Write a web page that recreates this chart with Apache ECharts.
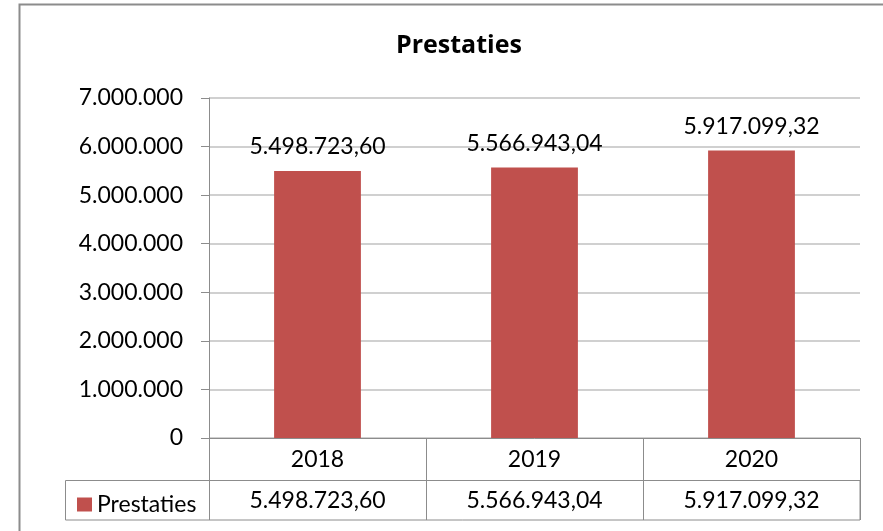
<!DOCTYPE html>
<html>
<head>
<meta charset="utf-8">
<script src="https://cdn.jsdelivr.net/npm/echarts@6/dist/echarts.min.js"></script>
<style>
  html, body { margin: 0; padding: 0; background: #fff; }
  #chart { width: 883px; height: 531px; }
</style>
</head>
<body>
<div id="chart"></div>
<script>
// gegevens
var years = ['2018', '2019', '2020'];
var prestaties = [5498723.60, 5566943.04, 5917099.32];
var yTicks = [0, 1000000, 2000000, 3000000, 4000000, 5000000, 6000000, 7000000];

var FONT = 'Lato';
var GRAY = '#8c8c8c';

// Nederlandse notatie: 5.498.723,60
function nl(v, dec) {
  var s = v.toFixed(dec);
  var parts = s.split('.');
  var int = parts[0].replace(/\B(?=(\d{3})+(?!\d))/g, '.');
  return dec ? int + ',' + parts[1] : int;
}

var chart = echarts.init(document.getElementById('chart'));

chart.setOption({
  animation: false,
  textStyle: { fontFamily: FONT },
  title: {
    text: 'Prestaties',
    left: 391,
    top: 28,
    textStyle: { fontFamily: 'Open Sans', fontSize: 25, fontWeight: 'bold', color: '#000' }
  },
  legend: {
    left: 72,
    top: 488,
    icon: 'rect',
    itemWidth: 15,
    itemHeight: 14,
    itemGap: 6,
    textStyle: { fontFamily: FONT, fontSize: 23, color: '#000' },
    data: ['Prestaties']
  },
  grid: { left: 209, right: 23, top: 98, bottom: 93, containLabel: false },
  xAxis: [{
    type: 'category',
    data: years,
    axisLine: { lineStyle: { color: GRAY, width: 1 } },
    axisTick: { show: true, length: 82, lineStyle: { color: GRAY } },
    axisLabel: { margin: 10, fontSize: 23, color: '#000', fontFamily: FONT }
  }, {
    type: 'category',
    position: 'bottom',
    offset: 42,
    data: prestaties.map(function (v) { return nl(v, 2); }),
    axisLine: { lineStyle: { color: GRAY, width: 1 } },
    axisTick: { show: true, length: 40, lineStyle: { color: GRAY } },
    axisLabel: { margin: 9, fontSize: 23, color: '#000', fontFamily: FONT }
  }],
  yAxis: {
    type: 'value',
    min: yTicks[0],
    max: yTicks[yTicks.length - 1],
    interval: yTicks[1] - yTicks[0],
    axisLine: { show: true, lineStyle: { color: GRAY } },
    axisTick: { show: true, length: 8, lineStyle: { color: GRAY } },
    axisLabel: {
      margin: 26, fontSize: 23, color: '#000', fontFamily: FONT,
      formatter: function (v) { return nl(v, 0); }
    },
    splitLine: { lineStyle: { color: '#c0c0c0', width: 1.5 } }
  },
  series: [{
    name: 'Prestaties',
    type: 'bar',
    xAxisIndex: 0,
    data: prestaties,
    barCategoryGap: '60%',
    itemStyle: { color: '#c0504d' },
    label: {
      show: true,
      position: 'top',
      distance: 13,
      fontSize: 23,
      color: '#000',
      fontFamily: FONT,
      formatter: function (p) { return nl(p.value, 2); }
    }
  }],
  graphic: [{
    // omlijning van de grafiek
    type: 'rect',
    shape: { x: 19.5, y: 4.5, width: 900, height: 600 },
    style: { fill: 'none', stroke: '#8c8c8c', lineWidth: 2 },
    silent: true
  }, {
    // rij met legenda en waarden
    type: 'rect',
    shape: { x: 65.5, y: 480.5, width: 794.5, height: 39.5 },
    style: { fill: 'none', stroke: GRAY, lineWidth: 1 },
    silent: true
  }]
});
</script>
</body>
</html>
